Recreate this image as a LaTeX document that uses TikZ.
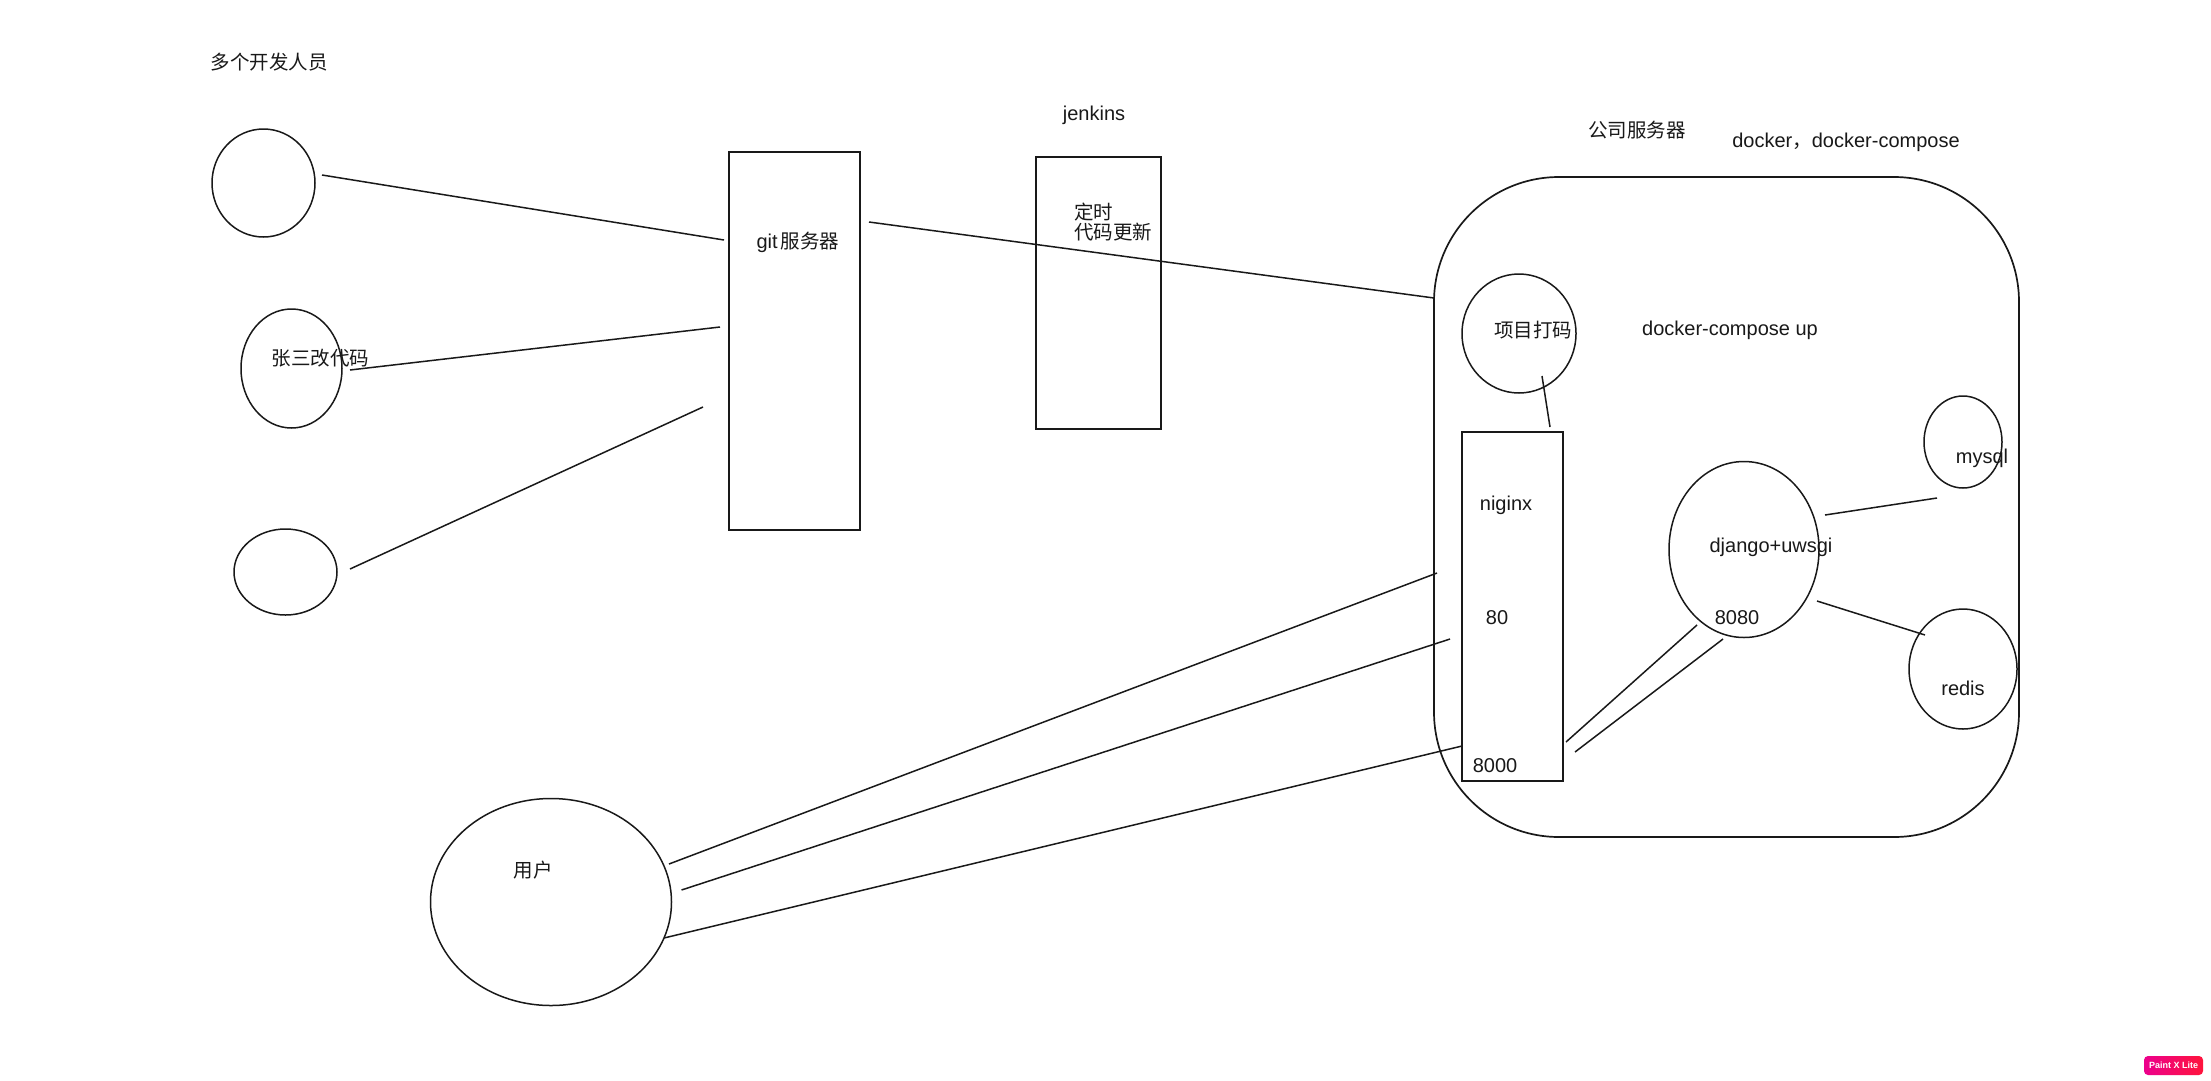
\documentclass[tikz,border=0pt]{standalone}
\usepackage{fontspec}
\setmainfont{Liberation Sans}
\newfontfamily\cjk{Noto Sans CJK SC}
\usetikzlibrary{shapes.geometric, positioning}
\definecolor{inkdark}{RGB}{25,25,25}
\definecolor{badgepink}{RGB}{236,0,140}
\definecolor{badgered}{RGB}{255,20,60}
\tikzset{
  box/.style={rectangle, draw=inkdark, line width=1.7pt, inner sep=0pt},
  blob/.style={ellipse, draw=inkdark, line width=1.5pt, inner sep=0pt},
  txt/.style={font=\fontsize{20}{20}\selectfont, text=inkdark, inner sep=0pt},
  cjktxt/.style={font=\fontsize{19.5}{20}\selectfont\cjk, text=inkdark, inner sep=0pt},
  wire/.style={line width=1.5pt, color=inkdark},
  badge/.style={rectangle, rounded corners=4pt, left color=badgepink, right color=badgered,
    text=white, font=\fontsize{9}{9}\selectfont\bfseries, minimum width=59pt, minimum height=19pt, inner sep=0pt}
}
\begin{document}
\begin{tikzpicture}[x=1pt, y=-1pt]
  \useasboundingbox (0,0) rectangle (2211,1080);
  \fill[white] (0,0) rectangle (2211,1080);

  % Developers
  \node[cjktxt] (devs) at (269,62) {多个开发人员};
  \node[blob, minimum width=103pt, minimum height=108pt] (dev1) at (263.5,183) {};
  \node[blob, minimum width=101pt, minimum height=119pt] (dev2) at (291.5,368.5) {};
  \node[cjktxt] (dev2txt) at (320.5,358) {张三改代码};
  \node[blob, minimum width=103pt, minimum height=86pt] (dev3) at (285.5,572) {};

  % Git server
  \node[box, minimum width=131pt, minimum height=378pt] (git) at (794.5,341) {};
  \node[txt] (gittxt) at (798,242) {git\,{\cjk\fontsize{19.5}{20}\selectfont 服务器}};

  % Jenkins
  \node[txt] (jenkinstxt) at (1094,115) {jenkins};
  \node[box, minimum width=125pt, minimum height=272pt] (jenkins) at (1098.5,293) {};
  \node[cjktxt, align=left, anchor=west] (cron) at (1074,222) {定时\\代码更新};

  % Company server
  \node[cjktxt] (srvtxt) at (1637,130) {公司服务器};
  \node[txt] (dockertxt) at (1846,142) {docker{\cjk\fontsize{19.5}{20}\selectfont ，}docker-compose};
  \node[box, rounded corners=125pt, minimum width=585pt, minimum height=660pt] (srv) at (1726.5,507) {};
  \node[blob, minimum width=114pt, minimum height=119pt] (pack) at (1519,333.5) {};
  \node[cjktxt] (packtxt) at (1533,330) {项目打码};
  \node[txt] (uptxt) at (1730,330) {docker-compose up};

  % Services
  \node[box, minimum width=101pt, minimum height=349pt] (nginx) at (1512.5,606.5) {};
  \node[txt] (nginxtxt) at (1506,505) {niginx};
  \node[txt] (port80) at (1497,618) {80};
  \node[txt] (port8000) at (1495,766) {8000};
  \node[blob, minimum width=150pt, minimum height=176pt] (django) at (1744,549.5) {};
  \node[txt] (djangotxt) at (1771,547) {django+uwsgi};
  \node[txt] (port8080) at (1737,618) {8080};
  \node[blob, minimum width=78pt, minimum height=92pt] (mysql) at (1963,442) {};
  \node[txt] (mysqltxt) at (1982,458) {mysql};
  \node[blob, minimum width=108pt, minimum height=120pt] (redis) at (1963,669) {};
  \node[txt] (redistxt) at (1963,688) {redis};

  % User
  \node[blob, minimum width=241pt, minimum height=207pt] (user) at (551,902) {};
  \node[cjktxt] (usertxt) at (533,870) {用户};

  % Connector ends
  \coordinate (dev1-r) at (322,175);   \coordinate (git-l1) at (724,240);
  \coordinate (dev2-r) at (350,370);   \coordinate (git-l2) at (720,327);
  \coordinate (dev3-r) at (350,569);   \coordinate (git-l3) at (703,407);
  \coordinate (git-r) at (869,222);    \coordinate (srv-l) at (1434,298);
  \coordinate (pack-b) at (1542,376);  \coordinate (nginx-t) at (1550,427);
  \coordinate (django-r1) at (1825,515); \coordinate (mysql-l) at (1937,498);
  \coordinate (django-r2) at (1817,601); \coordinate (redis-l) at (1925,635);
  \coordinate (nginx-r1) at (1566,742); \coordinate (django-b1) at (1697,625);
  \coordinate (nginx-r2) at (1575,752); \coordinate (django-b2) at (1723,639);
  \coordinate (user-r1) at (669,864);  \coordinate (nginx-l1) at (1437,573);
  \coordinate (user-r2) at (681.5,890); \coordinate (nginx-l2) at (1450,639);
  \coordinate (user-r3) at (664,938);  \coordinate (nginx-l3) at (1462,746);

  % Connectors
  \draw[wire] (dev1-r) -- (git-l1);
  \draw[wire] (dev2-r) -- (git-l2);
  \draw[wire] (dev3-r) -- (git-l3);
  \draw[wire] (git-r) -- (srv-l);
  \draw[wire] (pack-b) -- (nginx-t);
  \draw[wire] (django-r1) -- (mysql-l);
  \draw[wire] (django-r2) -- (redis-l);
  \draw[wire] (nginx-r1) -- (django-b1);
  \draw[wire] (nginx-r2) -- (django-b2);
  \draw[wire] (user-r1) -- (nginx-l1);
  \draw[wire] (user-r2) -- (nginx-l2);
  \draw[wire] (user-r3) -- (nginx-l3);

  % Watermark
  \node[badge] (paintx) at (2173.5,1065.5) {Paint X Lite};
\end{tikzpicture}
\end{document}
